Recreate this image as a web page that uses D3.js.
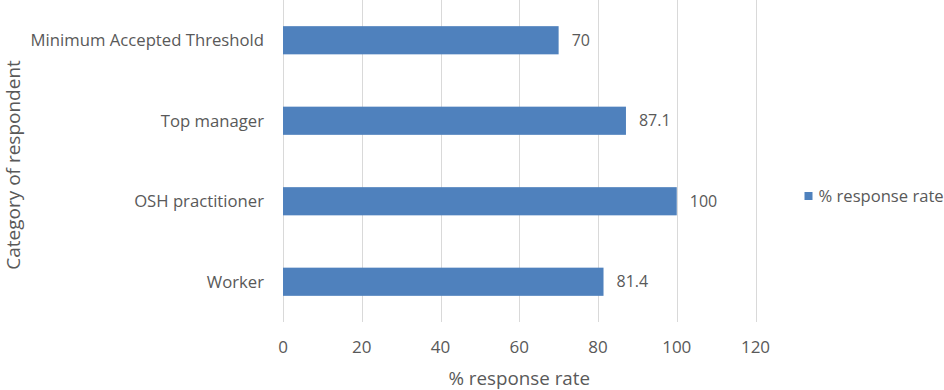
<script src='https://d3js.org/d3.v7.min.js'></script>
<style>
body {margin:0; background:#fff;}
text {font-family:'Open Sans', sans-serif; fill:#595959;}
.grid line {stroke:#d9d9d9; stroke-width:1; shape-rendering:crispEdges;}
.grid path {display:none;}
</style>
<body>
<svg id='chart'></svg>
<script>
var categories=['Minimum Accepted Threshold','Top manager','OSH practitioner','Worker'];
var values=[70,87.1,100,81.4];
var xTicks=[0,20,40,60,80,100,120];
var seriesName='% response rate';

var W=944,H=390;
var m={top:0,left:283,right:190,bottom:68};
var w=W-m.left-m.right+1.5, h=H-m.top-m.bottom;

var data=categories.map(function(c,i){return {cat:c,val:values[i]}});
var x=d3.scaleLinear().domain([0,120]).range([0,w]);
var y=d3.scaleBand().domain(categories).range([0,h]).paddingInner(0.65).paddingOuter(0.325);

var svg=d3.select('#chart').attr('width',W).attr('height',H)
          .append('g').attr('transform','translate('+m.left+','+m.top+')');

svg.append('g').attr('class','grid').attr('transform','translate(0,'+h+')')
   .call(d3.axisBottom(x).tickValues(xTicks).tickSize(-h).tickFormat(''));

svg.selectAll('.bar').data(data).enter().append('rect').attr('class','bar')
   .attr('x',x(0)).attr('y',function(d){return y(d.cat)})
   .attr('width',function(d){return x(d.val)-x(0)}).attr('height',y.bandwidth())
   .attr('fill','#4f81bd');

svg.selectAll('.val').data(data).enter().append('text').attr('class','val')
   .attr('x',function(d){return x(d.val)+13}).attr('y',function(d){return y(d.cat)+y.bandwidth()/2})
   .attr('dy','0.35em').style('font-size','16px').text(function(d){return d.val});

svg.selectAll('.cat').data(data).enter().append('text').attr('class','cat')
   .attr('x',-19).attr('y',function(d){return y(d.cat)+y.bandwidth()/2})
   .attr('dy','0.35em').attr('text-anchor','end').style('font-size','16.7px').text(function(d){return d.cat});

svg.selectAll('.tick-lbl').data(xTicks).enter().append('text').attr('class','tick-lbl')
   .attr('x',function(d){return x(d)}).attr('y',h+25).attr('dy','0.35em')
   .attr('text-anchor','middle').style('font-size','17px').text(function(d){return d});

svg.append('text').attr('x',w/2).attr('y',h+56).attr('dy','0.35em').attr('text-anchor','middle')
   .style('font-size','18.8px').text(seriesName);

svg.append('text').attr('transform','translate('+(-270)+','+(h/2+4)+') rotate(-90)')
   .attr('dy','0.35em').attr('text-anchor','middle').style('font-size','19px').text('Category of respondent');

var lg=svg.append('g').attr('transform','translate('+(w+49)+','+(h/2+35)+')');
lg.append('rect').attr('x',0).attr('y',-4).attr('width',8).attr('height',8).attr('fill','#4f81bd');
lg.append('text').attr('x',14).attr('y',0).attr('dy','0.35em').style('font-size','16.6px').text(seriesName);
</script>
</body>
